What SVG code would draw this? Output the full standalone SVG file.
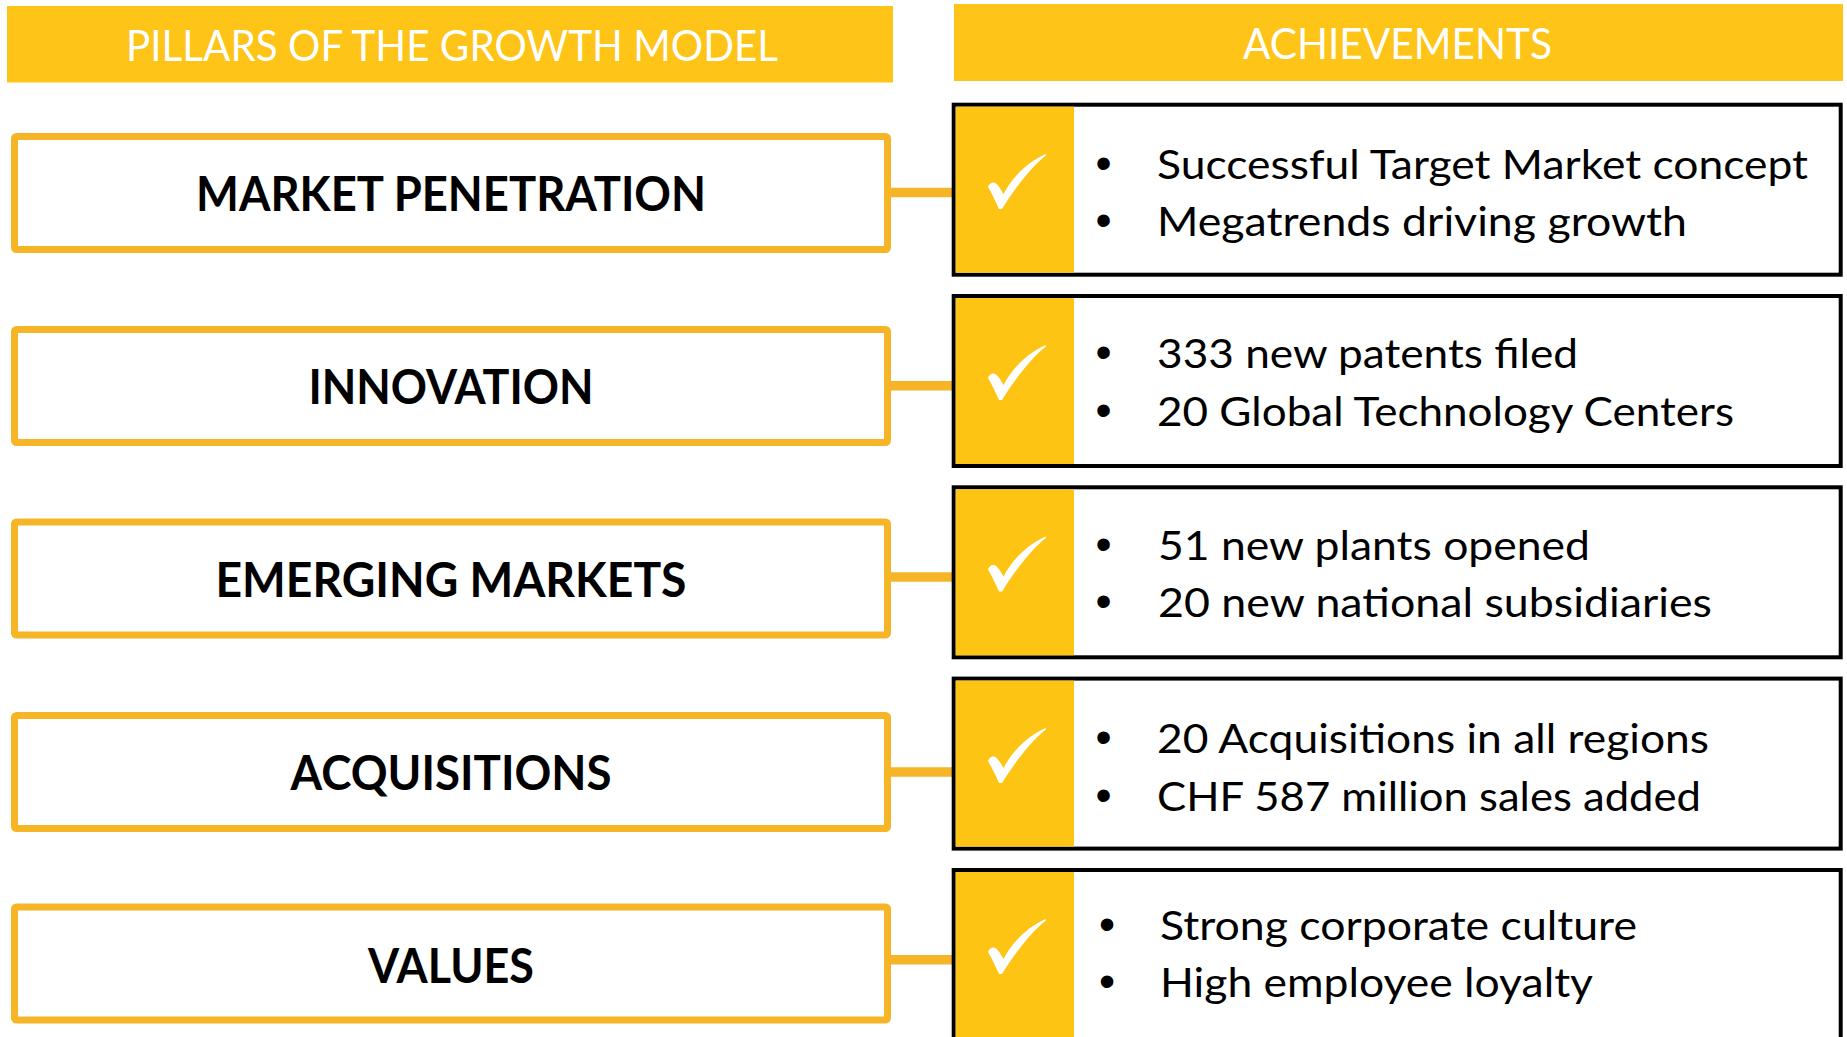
<svg xmlns="http://www.w3.org/2000/svg" width="1847" height="1037" viewBox="0 0 1847 1037">
  <style>
    .hdr { fill: #FEC417; }
    .hdrtxt { font-family: Lato, "Open Sans", "Liberation Sans", sans-serif; font-size: 42px; fill: #FFFFFF; text-anchor: middle; }
    .pillar { fill: #FFFFFF; stroke: #F6B427; stroke-width: 7; }
    .ptxt { font-family: Lato, "Open Sans", "Liberation Sans", sans-serif; font-size: 47px; font-weight: 700; fill: #000000; text-anchor: middle; }
    .ach { fill: #FFFFFF; stroke: #000000; stroke-width: 4; }
    .achfill { fill: #FEC414; }
    .atxt { font-family: Lato, "Open Sans", "Liberation Sans", sans-serif; font-size: 40px; fill: #000000; }
    .bul { font-family: "Liberation Sans", Arial, sans-serif; font-size: 46px; fill: #000000; text-anchor: middle; }
    .conn { stroke: #F6B427; stroke-width: 9.5; fill: none; }
    .chk { fill: #FFFFFF; }
  </style>
  <defs>
    <path id="check" d="M0,33 C1,29.5 4,28 6,28.5 C9,29.5 11,32 15.5,40 C25,22 40,8 57.7,0 L58,1.5 C44,12 27,34 14,55 L11,55 C7,46 3,38 0,33 Z"/>
  </defs>
  <rect width="1847" height="1037" fill="#FFFFFF"/>

  <g id="header-pillars">
    <rect class="hdr" x="7" y="6" width="886" height="76.5"/>
    <text class="hdrtxt" x="452" y="61" textLength="652" lengthAdjust="spacingAndGlyphs">PILLARS OF THE GROWTH MODEL</text>
  </g>
  <g id="header-achievements">
    <rect class="hdr" x="954" y="4" width="889" height="77"/>
    <text class="hdrtxt" x="1397.5" y="59" textLength="309" lengthAdjust="spacingAndGlyphs">ACHIEVEMENTS</text>
  </g>

  <g id="connectors">
    <line class="conn" x1="889" y1="192.5" x2="955" y2="192.5"/>
    <line class="conn" x1="889" y1="385.7" x2="955" y2="385.7"/>
    <line class="conn" x1="889" y1="577" x2="955" y2="577"/>
    <line class="conn" x1="889" y1="772" x2="955" y2="772"/>
    <line class="conn" x1="889" y1="959.7" x2="955" y2="959.7"/>
  </g>

  <g id="pillar-market-penetration">
    <rect class="pillar" x="14.5" y="136.5" width="873" height="113" rx="2"/>
    <text class="ptxt" x="451" y="211" textLength="510" lengthAdjust="spacingAndGlyphs">MARKET PENETRATION</text>
  </g>
  <g id="pillar-innovation">
    <rect class="pillar" x="14.5" y="329.5" width="873" height="113" rx="2"/>
    <text class="ptxt" x="451" y="404" textLength="285" lengthAdjust="spacingAndGlyphs">INNOVATION</text>
  </g>
  <g id="pillar-emerging-markets">
    <rect class="pillar" x="14.5" y="522" width="873" height="113" rx="2"/>
    <text class="ptxt" x="451" y="597" textLength="471" lengthAdjust="spacingAndGlyphs">EMERGING MARKETS</text>
  </g>
  <g id="pillar-acquisitions">
    <rect class="pillar" x="14.5" y="715.5" width="873" height="113" rx="2"/>
    <text class="ptxt" x="451" y="790" textLength="321" lengthAdjust="spacingAndGlyphs">ACQUISITIONS</text>
  </g>
  <g id="pillar-values">
    <rect class="pillar" x="14.5" y="907" width="873" height="113" rx="2"/>
    <text class="ptxt" x="451" y="983" textLength="166" lengthAdjust="spacingAndGlyphs">VALUES</text>
  </g>

  <g id="achievement-1">
    <rect class="ach" x="953.7" y="104.7" width="887" height="170"/>
    <rect class="achfill" x="955.7" y="106.7" width="118.3" height="166"/>
    <use href="#check" class="chk" x="988" y="154"/>
    <text class="bul" x="1103.5" y="178.5">•</text>
    <text class="atxt" x="1157" y="178.5" textLength="651" lengthAdjust="spacingAndGlyphs">Successful Target Market concept</text>
    <text class="bul" x="1103.5" y="235.5">•</text>
    <text class="atxt" x="1157" y="235.5" textLength="530" lengthAdjust="spacingAndGlyphs">Megatrends driving growth</text>
  </g>
  <g id="achievement-2">
    <rect class="ach" x="953.7" y="296" width="887" height="170"/>
    <rect class="achfill" x="955.7" y="298" width="118.3" height="166"/>
    <use href="#check" class="chk" x="988" y="345"/>
    <text class="bul" x="1103.5" y="368">•</text>
    <text class="atxt" x="1157" y="368" textLength="421" lengthAdjust="spacingAndGlyphs">333 new patents filed</text>
    <text class="bul" x="1103.5" y="426">•</text>
    <text class="atxt" x="1157" y="426" textLength="577" lengthAdjust="spacingAndGlyphs">20 Global Technology Centers</text>
  </g>
  <g id="achievement-3">
    <rect class="ach" x="953.7" y="487.3" width="887" height="170"/>
    <rect class="achfill" x="955.7" y="489.3" width="118.3" height="166"/>
    <use href="#check" class="chk" x="988" y="536.5"/>
    <text class="bul" x="1103.5" y="559.5">•</text>
    <text class="atxt" x="1158" y="559.5" textLength="432" lengthAdjust="spacingAndGlyphs">51 new plants opened</text>
    <text class="bul" x="1103.5" y="617">•</text>
    <text class="atxt" x="1158" y="617" textLength="554" lengthAdjust="spacingAndGlyphs">20 new national subsidiaries</text>
  </g>
  <g id="achievement-4">
    <rect class="ach" x="953.7" y="678.6" width="887" height="170"/>
    <rect class="achfill" x="955.7" y="680.6" width="118.3" height="166"/>
    <use href="#check" class="chk" x="988" y="728"/>
    <text class="bul" x="1103.5" y="753">•</text>
    <text class="atxt" x="1157" y="753" textLength="552" lengthAdjust="spacingAndGlyphs">20 Acquisitions in all regions</text>
    <text class="bul" x="1103.5" y="810.7">•</text>
    <text class="atxt" x="1157" y="810.7" textLength="544" lengthAdjust="spacingAndGlyphs">CHF 587 million sales added</text>
  </g>
  <g id="achievement-5">
    <rect class="ach" x="953.7" y="870" width="887" height="170"/>
    <rect class="achfill" x="955.7" y="872" width="118.3" height="166"/>
    <use href="#check" class="chk" x="988" y="919"/>
    <text class="bul" x="1107" y="940">•</text>
    <text class="atxt" x="1160" y="940" textLength="477" lengthAdjust="spacingAndGlyphs">Strong corporate culture</text>
    <text class="bul" x="1107" y="996.7">•</text>
    <text class="atxt" x="1160" y="996.7" textLength="433" lengthAdjust="spacingAndGlyphs">High employee loyalty</text>
  </g>
</svg>
